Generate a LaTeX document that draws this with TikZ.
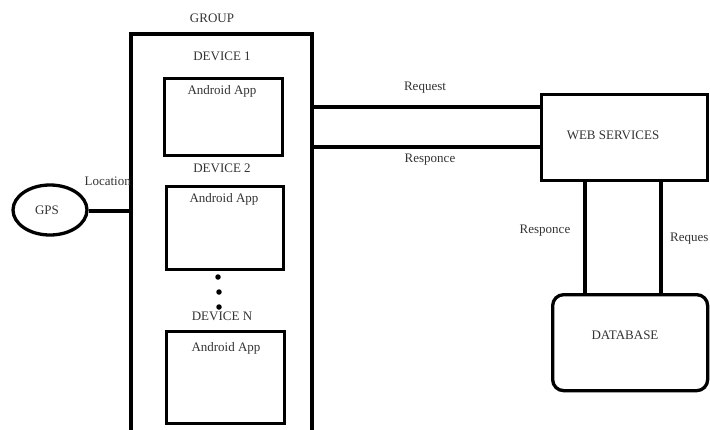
\documentclass[tikz,border=0pt]{standalone}
\usepackage{fontspec}
\setmainfont{Liberation Serif}
\usetikzlibrary{shapes.geometric}
\begin{document}
\begin{tikzpicture}[x=1pt,y=-1pt,
  thick line/.style={line width=3.3pt, draw=black},
  box/.style={thick line, rectangle, inner sep=0pt, anchor=north west},
  lbl/.style={text=black!80, font=\fontsize{13}{15}\selectfont, inner sep=0pt},
  dot/.style={circle, fill=black, inner sep=0pt, minimum size=5.5pt}]
\useasboundingbox (0,0) rectangle (710,429);
\clip (0,0) rectangle (710,429);
% group
\coordinate (gbl) at (131,440);
\coordinate (gtl) at (131,34);
\coordinate (gtr) at (312,34);
\coordinate (gbr) at (312,440);
\draw[thick line, line join=miter] (gbl) -- (gtl) -- (gtr) -- (gbr);
\node[lbl] (group) at (212,18) {GROUP};
% devices
\node[lbl] (dev1) at (222,56) {DEVICE 1};
\node[box, minimum width=118pt, minimum height=77pt] (app1) at (163,77) {};
\node[lbl] (app1t) at (222,91) {Android App};
\node[lbl] (dev2) at (222,168) {DEVICE 2};
\node[box, minimum width=117pt, minimum height=83pt] (app2) at (165,185) {};
\node[lbl] (app2t) at (224,199) {Android App};
\node[dot] (d1) at (218,277) {};
\node[dot] (d2) at (219,292) {};
\node[dot] (d3) at (219,307) {};
\node[lbl] (devn) at (222,316) {DEVICE N};
\node[box, minimum width=118pt, minimum height=92pt] (appn) at (165,330) {};
\node[lbl] (appnt) at (226,348) {Android App};
% GPS
\node[ellipse, thick line, minimum width=74pt, minimum height=50pt, inner sep=0pt] (gps) at (50,210) {};
\node[lbl] (gpst) at (47,210) {GPS};
\coordinate (gin) at (131,211);
\draw[thick line] (gps.east |- gin) -- (gin);
\node[lbl, anchor=east] (loc) at (131,181) {Location};
% web services
\node[box, minimum width=166pt, minimum height=86pt] (ws) at (540,93) {};
\node[lbl] (wst) at (613,135) {WEB SERVICES};
\coordinate (rq1) at (312,107);
\coordinate (rs1) at (312,147);
\draw[thick line] (rq1) -- (ws.west |- rq1);
\draw[thick line] (rs1) -- (ws.west |- rs1);
\node[lbl] (req) at (425,88) {Request};
\node[lbl] (resp) at (430,160) {Responce};
% database
\node[box, rounded corners=11pt, minimum width=155pt, minimum height=96pt] (db) at (551,293) {};
\node[lbl] (dbt) at (625,335) {DATABASE};
\coordinate (v1) at (585,179);
\coordinate (v2) at (661,179);
\draw[thick line] (v1) -- (v1 |- db.north);
\draw[thick line] (v2) -- (v2 |- db.north);
\node[lbl] (resp2) at (545,231) {Responce};
\node[lbl, anchor=west] (req2) at (670,239) {Reques};
\end{tikzpicture}
\end{document}
